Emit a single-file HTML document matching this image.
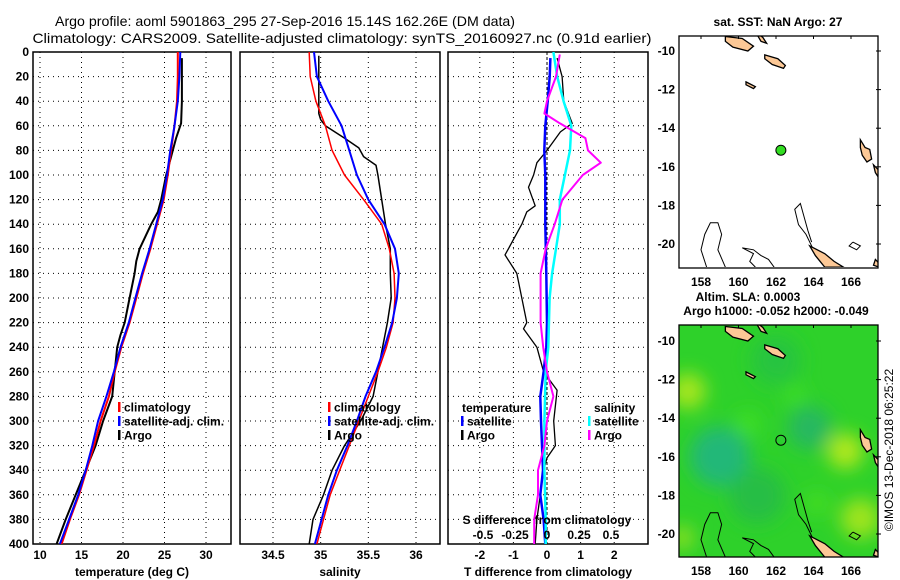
<!DOCTYPE html>
<html><head><meta charset="utf-8"><style>
html,body{margin:0;padding:0;background:#fff;}
svg{display:block;font-family:"Liberation Sans",sans-serif;}
.tk{font-size:12px;font-weight:bold;}
</style></head><body>
<svg id="chart" width="900" height="580" viewBox="0 0 900 580">
<defs>
<clipPath id="c1"><rect x="33" y="52" width="198" height="492"/></clipPath>
<clipPath id="c2"><rect x="240" y="52" width="200" height="492"/></clipPath>
<clipPath id="c3"><rect x="448" y="52" width="200" height="492"/></clipPath>
<clipPath id="cm1"><rect x="679" y="36" width="199" height="231"/></clipPath>
<clipPath id="cm2"><rect x="679" y="325" width="199" height="232"/></clipPath>
<filter id="blur"><feGaussianBlur stdDeviation="9"/></filter>
</defs>
<text x="285" y="26" font-size="14" text-anchor="middle" textLength="460" lengthAdjust="spacingAndGlyphs">Argo profile: aoml 5901863_295 27-Sep-2016 15.14S 162.26E (DM data)</text>
<text x="342" y="43" font-size="14" text-anchor="middle" textLength="619" lengthAdjust="spacingAndGlyphs">Climatology: CARS2009. Satellite-adjusted climatology: synTS_20160927.nc (0.91d earlier)</text>
<g id="plots"></g>
<g id="maps"></g>
<text transform="translate(893,450) rotate(-90)" font-size="12" text-anchor="middle">©IMOS 13-Dec-2018 06:25:22</text>
</svg>
<script>
// ---- data ----
const depthT = [0,20,40,60,80,100,120,140,160,180,200,220,240,260,280,300,320,340,360,380,400];
const tempClim = [26.6,26.6,26.5,26.2,25.8,25.4,24.9,24.1,23.3,22.4,21.6,20.8,19.8,19.0,18.3,17.3,16.5,15.6,14.7,13.6,12.6];
const tempSat  = [26.9,26.8,26.6,26.2,25.7,25.3,24.8,24.0,23.2,22.3,21.5,20.7,19.7,18.9,18.0,17.0,16.3,15.5,14.6,13.5,12.4];
const depthArgoT = [5,20,40,58,70,80,100,120,130,140,160,170,180,200,220,230,240,260,280,300,320,340,360,380,400];
const tempArgo = [27.1,27.1,27.1,27.0,26.4,26.0,25.2,24.6,24.2,23.4,22.0,21.6,21.4,20.8,20.2,19.7,19.3,19.0,18.7,17.6,16.7,15.5,14.3,13.1,12.0];
const salClim = [34.88,34.89,34.95,35.05,35.12,35.25,35.45,35.64,35.72,35.77,35.78,35.76,35.69,35.6,35.5,35.4,35.3,35.2,35.1,35.03,34.96];
const salSat  = [34.93,34.96,35.08,35.22,35.3,35.38,35.5,35.67,35.78,35.82,35.8,35.75,35.67,35.58,35.47,35.38,35.28,35.17,35.08,35.01,34.94];
const depthArgoS = [3,50,55,60,70,78,85,92,100,120,140,160,180,200,220,240,260,280,300,320,340,360,380,400];
const salArgo = [34.98,34.98,35.0,35.05,35.25,35.4,35.45,35.58,35.6,35.64,35.68,35.73,35.73,35.74,35.7,35.65,35.6,35.55,35.42,35.25,35.12,35.03,34.92,34.88];
const depthD = [5,20,40,60,80,100,140,180,220,240,260,280,300,320,340,360,380,400];
const dTsat = [0.1,0.08,0.02,-0.05,-0.08,-0.05,-0.05,-0.02,0.0,-0.02,-0.1,-0.2,-0.18,-0.15,-0.12,-0.2,-0.1,-0.05];
const depthDTA = [5,20,40,58,65,80,90,100,110,125,130,140,160,165,180,200,220,225,240,260,275,300,320,330,340,360,380,400];
const dTargo = [0.3,0.45,0.5,0.75,0.4,0.0,-0.3,-0.4,-0.55,-0.35,-0.6,-0.75,-1.15,-1.25,-0.9,-0.75,-0.6,-0.7,-0.3,-0.1,0.3,0.2,0.25,0.0,-0.1,-0.2,-0.3,-0.35];
const depthDS = [0,20,40,60,80,100,120,140,160,180,200,240,260,300,340,380,400];
const dSsat = [0.05,0.08,0.13,0.19,0.18,0.14,0.1,0.1,0.07,0.04,0.02,0.01,-0.01,-0.02,-0.02,-0.01,-0.01];
const depthDSA = [2,20,40,50,58,70,80,90,100,120,140,160,180,200,220,240,260,280,300,320,340,360,380,400];
const dSargo = [0.1,0.07,0.0,-0.02,0.1,0.3,0.32,0.42,0.28,0.12,0.06,-0.01,-0.05,-0.05,-0.05,-0.03,0.0,0.05,0.0,-0.02,-0.07,-0.07,-0.1,-0.1];
const depthTicks = [0,20,40,60,80,100,120,140,160,180,200,220,240,260,280,300,320,340,360,380,400];
const tempTicks = [10,15,20,25,30];
const salTicks = [34.5,35,35.5,36];
const salTickLabels = ['34.5','35','35.5','36'];
const dTTicks = [-2,-1,0,1,2];
const dSTicks = [-0.5,-0.25,0,0.25,0.5];
const dSTickLabels = ['-0.5','-0.25','0','0.25','0.5'];
const lonTicks = [158,160,162,164,166];
const latTicks = [-10,-12,-14,-16,-18,-20];
const argoLon = 162.26, argoLat = -15.14;

// ---- scales ----
const Y0=52, YS=1.23, YB=Y0+400*YS;
const yD = d => Y0 + d*YS;
const xT = t => 40 + (t-10)*8.3;
const xS = s => 273 + (s-34.5)*95.33;
const xDT = t => 547 + t*33.6;
const xDS = s => 547 + s*128;
const mx = lon => 701 + (lon-158)*18.75;
const my1 = lat => 51 + (-10-lat)*19.3;
const my2 = lat => 341 + (-10-lat)*19.3;

const NS='http://www.w3.org/2000/svg';
function mk(tag, attrs, parent){ const e=document.createElementNS(NS,tag); for(const k in attrs) e.setAttribute(k,attrs[k]); parent.appendChild(e); return e; }
const plots=document.getElementById('plots');

function panel(x0,w,clip,xticks,xlabels,xfn,title,name,showY){
  const g=mk('g',{},plots);
  
  
  depthTicks.forEach(d=>{ if(d>0&&d<400){ const l=mk('line',{x1:x0,x2:x0+w,y1:yD(d),y2:yD(d),stroke:'#000','stroke-width':1,'stroke-dasharray':'1,4'},g);
      }});
  xticks.forEach((v,i)=>{ const l=mk('line',{x1:xfn(v),x2:xfn(v),y1:Y0,y2:YB,stroke:'#000','stroke-width':1,'stroke-dasharray':'1,4'},g);
     
    const t=mk('text',{x:xfn(v),y:559,'text-anchor':'middle',class:'tk'},g); t.textContent=xlabels[i];
      });
  const r=mk('rect',{x:x0,y:Y0,width:w,height:YB-Y0,fill:'none',stroke:'#000','stroke-width':1.5},g);
   
  const tt=mk('text',{x:x0+w/2,y:576,'text-anchor':'middle',class:'tk'},g); tt.textContent=title;
   
  if(showY){ depthTicks.forEach(d=>{ const t=mk('text',{x:29,y:yD(d)+4,'text-anchor':'end',class:'tk'},g); t.textContent=d;
      }); }
  return g;
}
function line(g,xs,ds,xfn,color,wd,clip,name){
  const pts=xs.map((v,i)=>xfn(v).toFixed(1)+','+yD(ds[i]).toFixed(1)).join(' ');
  const p=mk('polyline',{points:pts,fill:'none',stroke:color,'stroke-width':wd,'clip-path':'url(#'+clip+')','stroke-linejoin':'round'},g);
  
  
}
function legend(g,x,y,color,label,name){
  const r=mk('rect',{x:x,y:y-5,width:2.5,height:10,fill:color},g);
  
  
  const t=mk('text',{x:x+6,y:y+4.5,class:'tk'},g); t.textContent=label;
  
  
}

const g1=panel(33,198,'c1',tempTicks,tempTicks.map(String),xT,'temperature (deg C)','temperature-panel',true);
line(g1,tempArgo,depthArgoT,xT,'#000',2,'c1','temp-argo-line');
line(g1,tempClim,depthT,xT,'#f00',2,'c1','temp-climatology-line');
line(g1,tempSat,depthT,xT,'#00f',2,'c1','temp-satellite-line');
legend(g1,118,407,'#f00','climatology','legend-climatology');
legend(g1,118,421,'#00f','satellite-adj. clim.','legend-satellite');
legend(g1,118,435,'#000','Argo','legend-argo');

const g2=panel(240,200,'c2',salTicks,salTickLabels,xS,'salinity','salinity-panel',false);
line(g2,salArgo,depthArgoS,xS,'#000',1.5,'c2','sal-argo-line');
line(g2,salClim,depthT,xS,'#f00',1.5,'c2','sal-climatology-line');
line(g2,salSat,depthT,xS,'#00f',2,'c2','sal-satellite-line');
legend(g2,328,407,'#f00','climatology','legend-climatology');
legend(g2,328,421,'#00f','satellite-adj. clim.','legend-satellite');
legend(g2,328,435,'#000','Argo','legend-argo');

const g3=panel(448,200,'c3',dTTicks,dTTicks.map(String),xDT,'T difference from climatology','difference-panel',false);
const zl=mk('line',{x1:xDT(0),x2:xDT(0),y1:Y0,y2:YB,stroke:'#000','stroke-width':1,'stroke-dasharray':'3,2'},g3);
 
line(g3,dTargo,depthDTA,xDT,'#000',1.3,'c3','dT-argo-line');
line(g3,dTsat,depthD,xDT,'#00f',2.5,'c3','dT-satellite-line');
line(g3,dSsat,depthDS,xDS,'#00ffff',2.5,'c3','dS-satellite-line');
line(g3,dSargo,depthDSA,xDS,'#ff00ff',2,'c3','dS-argo-line');
{ const t=mk('text',{x:462,y:412,class:'tk'},g3); t.textContent='temperature';   }
{ const t=mk('text',{x:594,y:412,class:'tk'},g3); t.textContent='salinity';   }
legend(g3,461,421,'#00f','satellite','legend-t-satellite');
legend(g3,461,435,'#000','Argo','legend-t-argo');
legend(g3,588,421,'#00ffff','satellite','legend-s-satellite');
legend(g3,588,435,'#ff00ff','Argo','legend-s-argo');
{ const t=mk('text',{x:547,y:524,'text-anchor':'middle',class:'tk'},g3); t.textContent='S difference from climatology';   }
dSTicks.forEach((v,i)=>{ const t=mk('text',{x:xDS(v),y:539,'text-anchor':'middle',class:'tk'},g3); t.textContent=dSTickLabels[i];
    });

// ---- maps ----
const maps=document.getElementById('maps');
const islands=[
 [[159.3,-9.25],[160.2,-9.35],[160.8,-9.75],[160.5,-10.0],[159.7,-9.8],[159.3,-9.5]],
 [[160.9,-9.0],[161.3,-9.3],[161.5,-9.6],[161.2,-9.5]],
 [[161.4,-10.2],[162.1,-10.4],[162.5,-10.75],[162.4,-10.9],[161.8,-10.7],[161.4,-10.4]],
 [[160.4,-11.6],[160.9,-11.85],[160.8,-11.95],[160.4,-11.75]],
 [[166.5,-14.6],[166.75,-15.0],[167.0,-15.1],[167.1,-15.6],[166.85,-15.75],[166.6,-15.4],[166.5,-15.0]],
 [[167.2,-15.9],[167.5,-16.2],[167.5,-16.6],[167.3,-16.3]],
 [[163.8,-20.1],[164.6,-20.5],[165.1,-20.9],[165.6,-21.2],[164.6,-21.2],[164.1,-20.6]],
 [[167.3,-20.8],[167.5,-21.0],[167.5,-21.2],[167.2,-21.1]]
];
const contours=[
 [[158.3,-21.2],[158.0,-20.3],[158.2,-19.5],[158.5,-18.9],[158.9,-18.9],[159.1,-19.5],[158.9,-20.3],[159.3,-21.2]],
 [[161.9,-21.2],[161.6,-20.8],[161.2,-20.6],[160.8,-20.3],[160.2,-20.2],[160.8,-20.5],[160.6,-20.9],[160.9,-21.2]],
 [[164.0,-20.3],[163.6,-19.5],[163.2,-19.0],[163.0,-18.2],[163.3,-17.9],[163.5,-18.6],[163.7,-19.3],[163.9,-19.9]],
 [[166.1,-19.9],[166.5,-20.1],[166.3,-20.3],[165.9,-20.1],[166.1,-19.9]]
];
function drawMap(top,ymap,clip,isAlt,name){
  const g=mk('g',{},maps);
  
  
  const gc=mk('g',{'clip-path':'url(#'+clip+')'},g);
  if(isAlt){
    mk('rect',{x:679,y:top,width:199,height:232,fill:'#2ed12a'},gc);
    const bl=mk('g',{filter:'url(#blur)'},gc);
    [[159,-16,30,'#22b878'],[163.8,-14.5,22,'#25b860'],[161,-18,28,'#28be45'],[162,-11,25,'#27c440'],
     [157.3,-12.6,18,'#a6e61e'],[165.7,-15.7,18,'#b0e81c'],[166.5,-19.2,20,'#9ee41e'],[157,-20.2,12,'#8ee020'],
     [160.5,-14.3,12,'#40e020'],[163,-12.8,10,'#40e020'],[164.2,-18.4,12,'#44dd22']].forEach(b=>{
      mk('ellipse',{cx:mx(b[0]),cy:ymap(b[1]),rx:b[2],ry:b[2],fill:b[3]},bl);});
  } else {
    mk('rect',{x:679,y:top,width:199,height:232,fill:'#fff'},gc);
  }
  contours.forEach(c=>{ const p=mk('polyline',{points:c.map(q=>mx(q[0])+','+ymap(q[1])).join(' '),fill:'none',stroke:'#000','stroke-width':1},gc);
      });
  islands.forEach(c=>{ const p=mk('polygon',{points:c.map(q=>mx(q[0])+','+ymap(q[1])).join(' '),fill:'#fcc896',stroke:'#000','stroke-width':1.3},gc);
      });
  const m=mk('circle',{cx:mx(argoLon),cy:ymap(argoLat),r:5,fill:isAlt?'none':'#33dd22',stroke:'#000','stroke-width':1},gc);
   
  const fr=mk('rect',{x:679,y:top,width:199,height:232,fill:'none',stroke:'#000','stroke-width':1.3},g);
   
  lonTicks.forEach(v=>{ const t=mk('text',{x:mx(v),y:top+250,'text-anchor':'middle',class:'tk'},g); t.textContent=v;
     
    mk('line',{x1:mx(v),x2:mx(v),y1:top,y2:top+3,stroke:'#000'},g); });
  latTicks.forEach(v=>{ const t=mk('text',{x:675,y:ymap(v)+4,'text-anchor':'end',class:'tk'},g); t.textContent=v;
     
    mk('line',{x1:876,x2:881,y1:ymap(v),y2:ymap(v),stroke:'#000'},g); });
}
drawMap(36,my1,'cm1',false,'sst-map');
drawMap(325,my2,'cm2',true,'altimetry-map');
[['sat. SST: NaN Argo: 27',778,26,'sst-map-title'],['Altim. SLA: 0.0003',748,301,'altimetry-map-title'],['Argo h1000: -0.052 h2000: -0.049',776,315,'argo-height-label']].forEach(a=>{
  const t=mk('text',{x:a[1],y:a[2],'text-anchor':'middle',class:'tk'},maps); t.textContent=a[0];
  
  
});
</script>
</body></html>
